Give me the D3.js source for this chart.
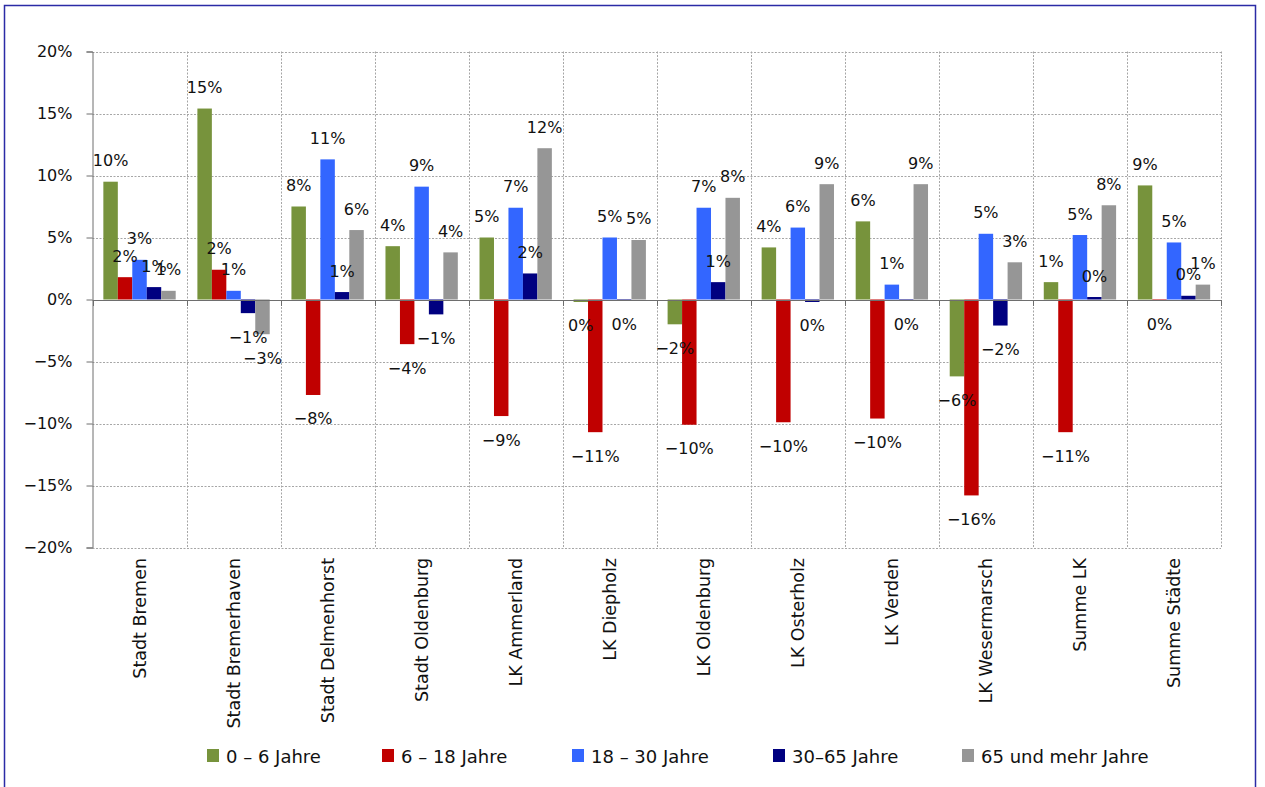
<!DOCTYPE html>
<html>
<head>
<meta charset="utf-8">
<script src="https://cdn.jsdelivr.net/npm/d3@7"></script>
<style>
  html, body { margin: 0; padding: 0; background: #fff; }
  svg { display: block; font-family: "DejaVu Sans", sans-serif; }
</style>
</head>
<body>
<svg id="chart" width="1265" height="787"></svg>
<script>
const categories = ["Stadt Bremen", "Stadt Bremerhaven", "Stadt Delmenhorst", "Stadt Oldenburg", "LK Ammerland", "LK Diepholz", "LK Oldenburg", "LK Osterholz", "LK Verden", "LK Wesermarsch", "Summe LK", "Summe Städte"];
const seriesNames = ["0 – 6 Jahre", "6 – 18 Jahre", "18 – 30 Jahre", "30–65 Jahre", "65 und mehr Jahre"];
const seriesColors = ["#77933C", "#C00000", "#3366FF", "#000080", "#969696"];
const age0_6   = [9.5, 15.4, 7.5, 4.3, 5.0, -0.2, -2.0, 4.2, 6.3, -6.2, 1.4, 9.2];
const age6_18  = [1.8, 2.4, -7.7, -3.6, -9.4, -10.7, -10.1, -9.9, -9.6, -15.8, -10.7, -0.1];
const age18_30 = [3.2, 0.7, 11.3, 9.1, 7.4, 5.0, 7.4, 5.8, 1.2, 5.3, 5.2, 4.6];
const age30_65 = [1.0, -1.1, 0.6, -1.2, 2.1, -0.1, 1.4, -0.2, -0.1, -2.1, 0.2, 0.3];
const age65    = [0.7, -2.8, 5.6, 3.8, 12.2, 4.8, 8.2, 9.3, 9.3, 3.0, 7.6, 1.2];
const seriesValues = [age0_6, age6_18, age18_30, age30_65, age65];
const yTicks = [-20, -15, -10, -5, 0, 5, 10, 15, 20];

const svg = d3.select("#chart");
const pLeft = 92.5, pRight = 1221, pTop = 51.5, pBottom = 547.5;

// frame
svg.append("rect").attr("x", 4.5).attr("y", 5.5).attr("width", 1251).attr("height", 800)
  .attr("fill", "none").attr("stroke", "#2b2ba6").attr("stroke-width", 1.5);

const x0 = d3.scaleBand().domain(categories).range([pLeft, pRight]).paddingInner(0).paddingOuter(0);
const bw = x0.bandwidth();
const barW = bw / 6.5;
const x1 = d3.scaleBand().domain(d3.range(seriesNames.length)).range([barW * 0.75, bw - barW * 0.75]);
const y = d3.scaleLinear().domain([-20, 20]).range([pBottom, pTop]);

const fmt = v => { const r = Math.round(v); return (r < 0 ? "\u2212" + Math.abs(r) : String(Math.abs(r))) + "%"; };

// horizontal grid
svg.append("g").selectAll("line").data(yTicks.filter(t => t !== 0)).join("line")
  .attr("x1", pLeft).attr("x2", pRight)
  .attr("y1", d => Math.round(y(d)) + 0.5).attr("y2", d => Math.round(y(d)) + 0.5)
  .attr("stroke", "#a6a6a6").attr("stroke-dasharray", "2,1.5").attr("stroke-width", 1);

// vertical grid at category boundaries
const bounds = categories.map(c => x0(c) + bw);
svg.append("g").selectAll("line").data(bounds).join("line")
  .attr("x1", d => Math.round(d) + 0.5).attr("x2", d => Math.round(d) + 0.5)
  .attr("y1", pTop).attr("y2", pBottom)
  .attr("stroke", "#a6a6a6").attr("stroke-dasharray", "2,1.5").attr("stroke-width", 1);

// bars
const g = svg.append("g");
seriesValues.forEach((vals, si) => {
  g.selectAll(null).data(vals).join("rect")
    .attr("x", (d, i) => x0(categories[i]) + x1(si))
    .attr("width", x1.bandwidth())
    .attr("y", d => y(Math.max(0, d)))
    .attr("height", d => Math.abs(y(d) - y(0)))
    .attr("fill", seriesColors[si]);
});

// zero axis line
svg.append("line").attr("x1", pLeft).attr("x2", pRight)
  .attr("y1", Math.round(y(0)) + 0.5).attr("y2", Math.round(y(0)) + 0.5)
  .attr("stroke", "#6e6e6e").attr("stroke-width", 1.2);
// x ticks
svg.append("g").selectAll("line").data([pLeft].concat(bounds)).join("line")
  .attr("x1", d => Math.round(d) + 0.5).attr("x2", d => Math.round(d) + 0.5)
  .attr("y1", Math.round(y(0))).attr("y2", Math.round(y(0)) + 6)
  .attr("stroke", "#6e6e6e");

// y axis
const yAxis = d3.axisLeft(y).tickValues(yTicks).tickFormat(fmt).tickSize(6).tickPadding(14);
const ya = svg.append("g").attr("transform", `translate(${pLeft},0)`).call(yAxis);
ya.select(".domain").attr("stroke", "#6e6e6e");
ya.selectAll(".tick line").attr("stroke", "#6e6e6e");
ya.selectAll("text").attr("font-size", 16).attr("fill", "#111").attr("font-family", "DejaVu Sans");

// data labels
seriesValues.forEach((vals, si) => {
  g.selectAll(null).data(vals).join("text")
    .attr("x", (d, i) => x0(categories[i]) + x1(si) + x1.bandwidth() / 2)
    .attr("y", d => d >= 0 ? y(d) - 21 : y(d) + 24)
    .attr("text-anchor", "middle").attr("dominant-baseline", "central")
    .attr("font-size", 16).attr("fill", "#111")
    .text(d => fmt(d));
});

// category labels
svg.append("g").selectAll("text").data(categories).join("text")
  .attr("transform", d => `translate(${x0(d) + bw / 2},558) rotate(-90)`)
  .attr("text-anchor", "end").attr("dy", "0.36em")
  .attr("font-size", 17.5).attr("fill", "#111")
  .text(d => d);

// legend
const legendX = [207, 382, 572, 773, 962];
const lg = svg.append("g");
seriesNames.forEach((n, i) => {
  lg.append("rect").attr("x", legendX[i]).attr("y", 749).attr("width", 12).attr("height", 13).attr("fill", seriesColors[i]);
  lg.append("text").attr("x", legendX[i] + 19).attr("y", 756).attr("dominant-baseline", "central")
    .attr("font-size", 18).attr("fill", "#111").text(n);
});
</script>
</body>
</html>
